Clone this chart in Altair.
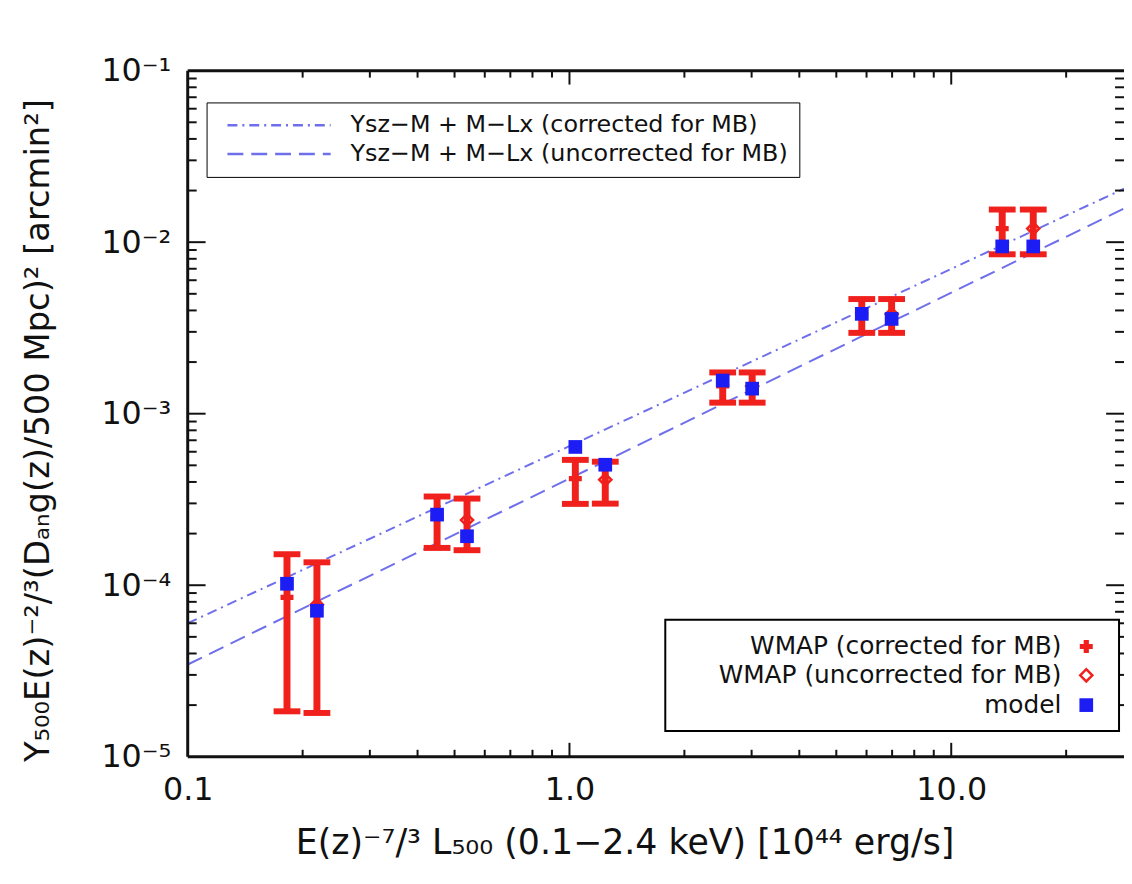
import altair as alt
import pandas as pd

# ---------------- data ----------------
lx_corr = [0.182, 0.450, 1.036, 2.52, 5.83, 13.6]   # WMAP corrected for MB (x)
lx_unc = [0.218, 0.539, 1.241, 3.01, 6.98, 16.4]    # WMAP uncorrected for MB (x)
y_corr = [8.5e-5, 2.47e-4, 4.18e-4, 1.45e-3, 3.81e-3, 1.20e-2]
e_corr = [6.66e-5, 0.82e-4, 1.20e-4, 0.29e-3, 0.85e-3, 0.35e-2]
y_unc = [7.7e-5, 2.40e-4, 4.12e-4, 1.45e-3, 3.81e-3, 1.20e-2]
e_unc = [5.9e-5, 0.80e-4, 1.13e-4, 0.29e-3, 0.85e-3, 0.35e-2]
model_corr = [1.02e-4, 2.58e-4, 6.40e-4, 1.56e-3, 3.82e-3, 9.45e-3]
model_unc = [7.1e-5, 1.93e-4, 5.04e-4, 1.40e-3, 3.57e-3, 9.45e-3]

fit_x = [0.1, 28.35]
fit_corr = [6.0e-5, 2.05e-2]
fit_unc = [3.45e-5, 1.57e-2]

fit_labels = ["Ysz\u2212M + M\u2212Lx (corrected for MB)",
              "Ysz\u2212M + M\u2212Lx (uncorrected for MB)"]
pt_labels = ["WMAP (corrected for MB)", "WMAP (uncorrected for MB)", "model"]

x_tick_values = [0.1, 1.0, 10.0]
y_tick_values = [1e-5, 1e-4, 1e-3, 1e-2, 1e-1]
y_tick_labels = ["10\u207b\u2075", "10\u207b\u2074", "10\u207b\u00b3", "10\u207b\u00b2", "10\u207b\u00b9"]
x_major_ticks = [1.0, 10.0]
x_minor_ticks = [0.2, 0.3, 0.4, 0.5, 0.6, 0.7, 0.8, 0.9, 2, 3, 4, 5, 6, 7, 8, 9, 20]
y_major_ticks = [1e-4, 1e-3, 1e-2]
minor_mult = [2, 3, 4, 5, 6, 7, 8, 9]
decades = [1e-5, 1e-4, 1e-3, 1e-2]
y_minor_ticks = [m * d for d in decades for m in minor_mult]

x_title = "E(z)\u207b\u2077/\u00b3 L\u2085\u2080\u2080 (0.1\u22122.4 keV) [10\u2074\u2074 erg/s]"
y_title = "Y\u2085\u2080\u2080E(z)\u207b\u00b2/\u00b3(D\u2090\u2099g(z)/500 Mpc)\u00b2 [arcmin\u00b2]"

# ---------------- tables ----------------
fit_df = pd.DataFrame({
    "x": fit_x + fit_x,
    "y": fit_corr + fit_unc,
    "fit": [fit_labels[0]] * 2 + [fit_labels[1]] * 2,
})
err_df = pd.DataFrame({
    "x": lx_corr + lx_unc,
    "lo": [a - b for a, b in zip(y_corr, e_corr)] + [a - b for a, b in zip(y_unc, e_unc)],
    "hi": [a + b for a, b in zip(y_corr, e_corr)] + [a + b for a, b in zip(y_unc, e_unc)],
})
wmap_c = pd.DataFrame({"x": lx_corr, "y": y_corr})
wmap_u = pd.DataFrame({"x": lx_unc, "y": y_unc})
model_df = pd.DataFrame({"x": lx_corr + lx_unc, "y": model_corr + model_unc})
xt_major = pd.DataFrame({"t": x_major_ticks})
xt_minor = pd.DataFrame({"t": x_minor_ticks})
yt_major = pd.DataFrame({"t": y_major_ticks})
yt_minor = pd.DataFrame({"t": y_minor_ticks})

# ---------------- style ----------------
W, H = 943, 691
FONT = "DejaVu Sans"
INK = "#111111"
RED = "#f0201c"
BLUE = "#1c1cf5"
LINE = "#6f6fec"

xs = alt.Scale(type="log", domain=[0.1, 28.35], nice=False)
ys = alt.Scale(type="log", domain=[1e-5, 0.1], nice=False)

lab_expr = "[" + ",".join("'%s'" % s for s in y_tick_labels) + "][round(log(datum.value)/LN10)+5]"

x_axis = alt.Axis(values=x_tick_values, format=".1f", ticks=False, domain=False, grid=False,
                  labelFontSize=32, labelFont=FONT, labelColor=INK, labelPadding=18,
                  title=x_title, titleFontSize=35, titleFont=FONT, titleFontWeight="normal",
                  titleColor=INK, titleX=440, titleY=86, titleBaseline="middle",
                  titleAlign="center", labelFlush=False, labelOverlap=False)
y_axis = alt.Axis(values=y_tick_values, labelExpr=lab_expr, ticks=False, domain=False, grid=False,
                  labelFontSize=32, labelFont=FONT, labelColor=INK, labelPadding=17,
                  title=y_title, titleFontSize=34, titleFont=FONT, titleFontWeight="normal",
                  titleColor=INK, titleX=-150, titleY=362, titleAngle=270,
                  titleBaseline="middle", titleAlign="center", labelFlush=False,
                  labelOverlap=False)

X = lambda f: alt.X(f, scale=xs, axis=x_axis)
Y = lambda f: alt.Y(f, scale=ys, axis=y_axis)

lines = alt.Chart(fit_df).mark_line(strokeWidth=2, color=LINE, clip=True).encode(
    x=X("x:Q"),
    y=Y("y:Q"),
    strokeDash=alt.StrokeDash(
        "fit:N",
        scale=alt.Scale(domain=fit_labels, range=[[10, 5, 2, 5], [16, 8]]),
        legend=alt.Legend(title=None, orient="none", legendX=19, legendY=32,
                          strokeColor="black", fillColor="white", padding=11,
                          symbolType="M-6,0H6", symbolSize=300, symbolStrokeWidth=2.5,
                          symbolStrokeColor=LINE, symbolOffset=50, labelOffset=60,
                          labelFontSize=24, labelFont=FONT, labelColor=INK,
                          labelLimit=0, rowPadding=5),
    ),
)

bars = alt.Chart(err_df).mark_rule(color=RED, strokeWidth=7).encode(
    x=X("x:Q"), y=Y("lo:Q"), y2="hi:Q")
cap_lo = alt.Chart(err_df).mark_tick(color=RED, thickness=6, size=27, orient="horizontal",
                                     opacity=1).encode(x=X("x:Q"), y=Y("lo:Q"))
cap_hi = alt.Chart(err_df).mark_tick(color=RED, thickness=6, size=27, orient="horizontal",
                                     opacity=1).encode(x=X("x:Q"), y=Y("hi:Q"))

pt_c = alt.Chart(wmap_c).mark_point(shape="cross", filled=True, color=RED, size=170,
                                    opacity=1).encode(x=X("x:Q"), y=Y("y:Q"))
pt_u = alt.Chart(wmap_u).mark_point(shape="diamond", filled=False, color=RED, size=150,
                                    strokeWidth=2.5, opacity=1).encode(x=X("x:Q"), y=Y("y:Q"))
pt_m = alt.Chart(model_df).mark_point(shape="square", filled=True, color=BLUE, size=190,
                                      opacity=1).encode(x=X("x:Q"), y=Y("y:Q"))

# frame (left, top, bottom; the right side lies beyond the picture in the reference)
one = pd.DataFrame({"k": [0]})
frame = [
    alt.Chart(one).mark_rule(color=INK, strokeWidth=3).encode(
        x=alt.value(0), y=alt.value(0), y2=alt.value(H)),
    alt.Chart(one).mark_rule(color=INK, strokeWidth=3).encode(
        x=alt.value(0), x2=alt.value(W), y=alt.value(0)),
    alt.Chart(one).mark_rule(color=INK, strokeWidth=3).encode(
        x=alt.value(0), x2=alt.value(W), y=alt.value(H)),
]

# inward frame ticks (IDL style)
def vticks(df, length, top):
    y0, y1 = (0, length) if top else (H, H - length)
    return alt.Chart(df).mark_rule(color=INK, strokeWidth=2).encode(
        x=X("t:Q"), y=alt.value(y0), y2=alt.value(y1))

def hticks(df, length, right):
    x0, x1 = (W, W - length) if right else (0, length)
    return alt.Chart(df).mark_rule(color=INK, strokeWidth=2).encode(
        y=Y("t:Q"), x=alt.value(x0), x2=alt.value(x1))

ticks = [
    vticks(xt_major, 14, False), vticks(xt_minor, 7, False),
    vticks(xt_major, 14, True), vticks(xt_minor, 7, True),
    hticks(yt_major, 18, False), hticks(yt_minor, 9, False),
    hticks(yt_major, 18, True), hticks(yt_minor, 9, True),
]

# bottom-right legend box (labels to the left of their symbols, as in the reference)
BX0, BX1, BY0, BY1 = 481, 938, 553, 665
ROWS = [580, 609, 639]
TX, SX = 880, 905
legend_box = alt.Chart(one).mark_rect(
    fill="white", stroke="black", strokeWidth=2).encode(
    x=alt.value(BX0), x2=alt.value(BX1), y=alt.value(BY0), y2=alt.value(BY1))
leg_layers = [legend_box]
leg_marks = [
    dict(shape="cross", filled=True, color=RED, size=170),
    dict(shape="diamond", filled=False, color=RED, size=150, strokeWidth=2.5),
    dict(shape="square", filled=True, color=BLUE, size=190),
]
for lab, ry, mk in zip(pt_labels, ROWS, leg_marks):
    d = pd.DataFrame({"label": [lab]})
    leg_layers.append(alt.Chart(d).mark_text(align="right", baseline="middle", fontSize=25,
                                             font=FONT, color=INK).encode(
        text="label:N", x=alt.value(TX), y=alt.value(ry)))
    leg_layers.append(alt.Chart(d).mark_point(opacity=1, **mk).encode(
        x=alt.value(SX), y=alt.value(ry)))

chart = alt.layer(lines, bars, cap_lo, cap_hi, pt_c, pt_u, pt_m, *frame, *ticks,
                  *leg_layers).properties(
    width=W, height=H,
    autosize=alt.AutoSizeParams(type="none"),
    padding={"left": 181, "top": 60, "right": 0, "bottom": 116},
).configure(background="white").configure_view(stroke=None)

chart.save("out.html", embed_options={"renderer": "svg", "actions": False})
